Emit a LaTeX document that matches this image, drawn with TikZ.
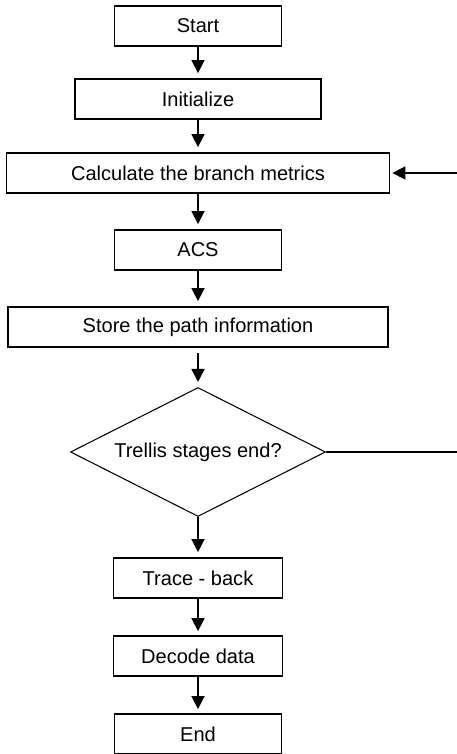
\documentclass[tikz,border=0pt]{standalone}
\usepackage{fontspec}
\setmainfont{Liberation Sans}
\usetikzlibrary{arrows.meta,shapes.geometric}

\begin{document}
\begin{tikzpicture}[
    stepbox/.style={draw, line width=1pt, minimum height=0.8cm, inner sep=0pt,
                    align=center, font=\fontsize{11.4}{13}\selectfont},
    decision/.style={draw, diamond, aspect=2, line width=0.6pt, inner sep=0pt,
                     minimum width=5.1cm, minimum height=2.58cm,
                     font=\fontsize{11.4}{13}\selectfont},
    flow/.style={-{Triangle[length=0.26cm,width=0.26cm]}, line width=0.85pt,
                 shorten >=0.1cm}
]
\useasboundingbox (0,0) rectangle (9.12,-15.08);
\node[stepbox, minimum width=3.34cm] (start) at (3.96,-0.52) {Start};
\node[stepbox, minimum width=4.92cm] (init) at (3.96,-1.98) {Initialize};
\node[stepbox, minimum width=7.66cm] (calc) at (3.96,-3.46) {Calculate the branch metrics};
\node[stepbox, minimum width=3.34cm] (acs) at (3.96,-5.0) {ACS};
\node[stepbox, minimum width=7.6cm] (store) at (3.96,-6.54) {Store the path information};
\node[decision] (trellis) at (3.96,-9.04) {Trellis stages end?};
\node[stepbox, minimum width=3.38cm] (trace) at (3.96,-11.56) {Trace - back};
\node[stepbox, minimum width=3.38cm] (decode) at (3.96,-13.12) {Decode data};
\node[stepbox, minimum width=3.34cm] (end) at (3.96,-14.68) {End};
% loop back runs just past the right edge
\coordinate (back) at (9.22,-3.46);
\draw[flow] (start.south) -- (init.north);
\draw[flow] (init.south) -- (calc.north);
\draw[flow] (calc.south) -- (acs.north);
\draw[flow] (acs.south) -- (store.north);
\draw[flow, shorten <=0.1cm] (store.south) -- (trellis.north);
\draw[flow] (trellis.south) -- (trace.north);
\draw[flow, shorten >=0.08cm] (trace.south) -- (decode.north);
\draw[flow, shorten >=0.08cm] (decode.south) -- (end.north);
\draw[flow, shorten >=0.04cm] (trellis.east) -| (back) -- (calc.east);
\end{tikzpicture}
\end{document}
